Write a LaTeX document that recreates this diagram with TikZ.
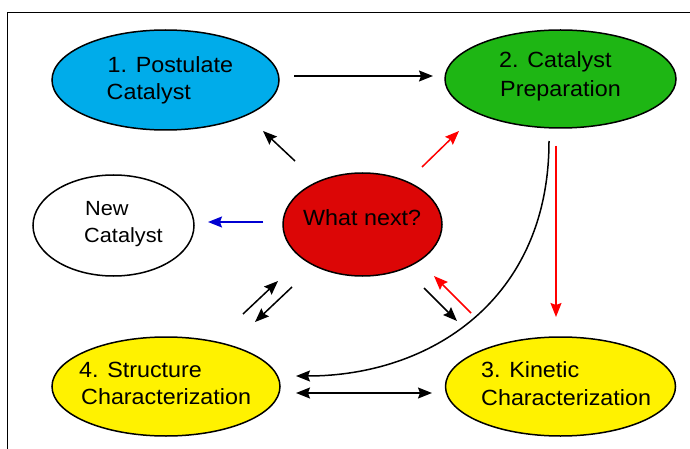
\documentclass[tikz,border=0pt]{standalone}
\usepackage{fontspec}
\setmainfont{Liberation Sans}[FakeStretch=1.06]
\usetikzlibrary{shapes.geometric,arrows.meta}
\definecolor{cblue}{RGB}{0,172,234}
\definecolor{cgreen}{RGB}{30,182,20}
\definecolor{cred}{RGB}{220,6,6}
\definecolor{cyellow}{RGB}{255,242,0}
\definecolor{aredc}{RGB}{255,0,0}
\definecolor{abluec}{RGB}{0,0,210}
\begin{document}
\begin{tikzpicture}[x=1pt,y=-1pt,
  stage/.style={ellipse, draw=black, line width=1.5pt, inner sep=0pt},
  lbl/.style={anchor=base west, inner sep=0pt, font=\fontsize{22}{26}\selectfont},
  lblsmall/.style={anchor=base west, inner sep=0pt, font=\fontsize{20.5}{24}\selectfont},
  arr/.style={line width=1.5pt, -{Stealth[length=14pt,width=11pt,inset=2pt]}},
  darr/.style={line width=1.5pt, {Stealth[length=14pt,width=11pt,inset=2pt]}-{Stealth[length=14pt,width=11pt,inset=2pt]}},
]
\useasboundingbox (0,0) rectangle (690,449);
\draw[line width=1.8pt] (7.5,449) -- (7.5,12.5) -- (690,12.5);

% ellipses
\node[stage, fill=cblue,   minimum width=227pt, minimum height=100pt] (e1) at (165.5,80) {};
\node[stage, fill=cgreen,  minimum width=231pt, minimum height=98pt]  (e2) at (560.5,79) {};
\node[stage, fill=white,   minimum width=161pt, minimum height=101pt] (e5) at (113.5,225.5) {};
\node[stage, fill=cred,    minimum width=159pt, minimum height=103pt] (e0) at (362.5,224.5) {};
\node[stage, fill=cyellow, minimum width=228pt, minimum height=99pt]  (e4) at (166,386.5) {};
\node[stage, fill=cyellow, minimum width=230pt, minimum height=99pt]  (e3) at (560.5,386.5) {};

% texts
\node[lbl] (t1a) at (107.5,72.3) {1. Postulate};
\node[lbl] (t1b) at (106.5,100) {Catalyst};
\node[lbl] (t2a) at (499,68) {2. Catalyst};
\node[lbl] (t2b) at (500,97) {Preparation};
\node[lblsmall] (t5a) at (85,215) {New};
\node[lblsmall] (t5b) at (84,242) {Catalyst};
\node[lbl] (t0) at (303,225) {What next?};
\node[lbl] (t4a) at (79,377) {4. Structure};
\node[lbl] (t4b) at (81,404) {Characterization};
\node[lbl] (t3a) at (481,377) {3. Kinetic};
\node[lbl] (t3b) at (481,405) {Characterization};

% connector end points
\coordinate (h1s) at (294,76);   \coordinate (h1e) at (433,76);
\coordinate (p1s) at (295,161);  \coordinate (p1e) at (263,131);
\coordinate (p2s) at (422,167);  \coordinate (p2e) at (459,131);
\coordinate (p5s) at (263,222);  \coordinate (p5e) at (208,222);
\coordinate (v3s) at (556,146);  \coordinate (v3e) at (556,317);
\coordinate (cvs) at (549,141);  \coordinate (cve) at (296,376);
\coordinate (d1s) at (296,393);  \coordinate (d1e) at (432,393);
\coordinate (q4s) at (243,314);  \coordinate (q4e) at (278,281);
\coordinate (q0s) at (292,287);  \coordinate (q0e) at (255,322);
\coordinate (r3s) at (424,288);  \coordinate (r3e) at (457,321);
\coordinate (r0s) at (471,313);  \coordinate (r0e) at (434,276);

% connectors
\draw[arr] (h1s) -- (h1e);
\draw[arr] (p1s) -- (p1e);
\draw[arr, draw=aredc, fill=aredc] (p2s) -- (p2e);
\draw[arr, draw=abluec, fill=abluec] (p5s) -- (p5e);
\draw[arr, draw=aredc, fill=aredc] (v3s) -- (v3e);
\draw[arr] (cvs) .. controls (549,300) and (430,376) .. (cve);
\draw[darr] (d1s) -- (d1e);
\draw[arr] (q4s) -- (q4e);
\draw[arr] (q0s) -- (q0e);
\draw[arr] (r3s) -- (r3e);
\draw[arr, draw=aredc, fill=aredc] (r0s) -- (r0e);
\end{tikzpicture}
\end{document}
